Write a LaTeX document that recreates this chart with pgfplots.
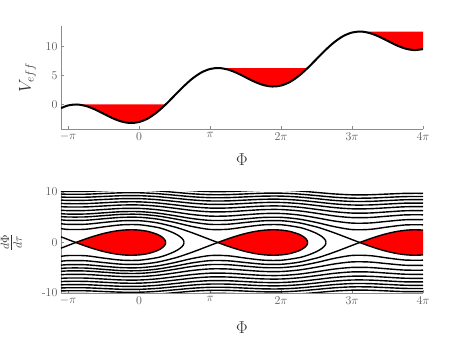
\documentclass[border=0pt]{standalone}
\usepackage{pgfplots}
\usepackage{pgfplotstable}
\pgfplotsset{compat=1.18}

\pgfplotsset{
  panel/.style={
    scale only axis, width=362pt,
    axis x line*=bottom, axis y line*=left,
    xmin=-3.45575, xmax=12.56637,
    xtick={-3.14159,0,3.14159,6.28319,9.42478,12.56637},
    xticklabels={$-\pi$,$0$,$\pi$,$2\pi$,$3\pi$,$4\pi$},
    tick align=inside, major tick length=3pt,
    axis line style={black!45, line width=0.6pt},
    major tick style={black!45, line width=0.6pt},
    tick label style={font=\fontsize{12}{14}\selectfont, text=black!65},
    label style={font=\fontsize{18}{21}\selectfont, text=black!80},
    no markers,
  },
  traj/.style={black, line width=1.4pt, smooth},
}

% open orbits above the wells, one column per energy level
\pgfplotstableread{
x a b c d e f g h i
-3.45575 5.7101 6.3879 7.0997 7.7463 8.4027 9.0114 9.6024 10.159 10.733
-3.14159 5.6288 6.3153 7.0345 7.6866 8.3477 8.9601 9.5542 10.113 10.690
-2.35619 5.6453 6.3300 7.0477 7.6987 8.3588 8.9705 9.5640 10.123 10.699
-1.57080 5.8772 6.5377 7.2348 7.8703 8.5172 9.1182 9.7026 10.254 10.823
-0.78540 6.1003 6.7390 7.4171 8.0382 8.6726 9.2635 9.8394 10.383 10.946
0        6.1156 6.7528 7.4297 8.0498 8.6833 9.2736 9.8489 10.392 10.954
0.78540  5.8371 6.5017 7.2022 7.8404 8.4895 9.0924 9.6784 10.231 10.801
1.57080  5.3158 6.0381 6.7866 7.4605 8.1399 8.7669 9.3733 9.9428 10.529
2.35619  4.7376 5.5358 6.3439 7.0601 7.7747 8.4288 9.0579 9.6460 10.249
3.14159  4.3723 5.2266 6.0759 6.8203 7.5576 8.2290 8.8723 9.4719 10.085
3.92699  4.3936 5.2444 6.0913 6.8340 7.5699 8.2404 8.8828 9.4818 10.095
4.71239  4.6878 5.4932 6.3067 7.0268 7.7444 8.4009 9.0319 9.6216 10.226
5.49779  4.9646 5.7312 6.5152 7.2144 7.9150 8.5585 9.1786 9.7595 10.356
6.28319  4.9833 5.7475 6.5294 7.2273 7.9268 8.5694 9.1888 9.7690 10.365
7.06858  4.6374 5.4503 6.2694 6.9933 7.7140 8.3729 9.0058 9.5972 10.203
7.85398  3.9613 4.8880 5.7873 6.5645 7.3275 8.0182 8.6771 9.2893 9.9142
8.63938  3.1430 4.2519 5.2611 6.1056 6.9194 7.6471 8.3354 8.9710 9.6166
9.42478  2.5594 3.8406 4.9346 5.8267 6.6746 7.4263 8.1333 8.7835 9.4420
10.21018 2.5956 3.8648 4.9535 5.8427 6.6886 7.4389 8.1447 8.7942 9.4518
10.99557 3.0674 4.1963 5.2162 6.0670 6.8854 7.6164 8.3071 8.9448 9.5921
11.78097 3.4757 4.5034 5.4663 6.2834 7.0768 7.7898 8.4665 9.0929 9.7304
12.56637 3.5025 4.5241 5.4834 6.2982 7.0899 7.8018 8.4775 9.1031 9.7400
}\hi

% separatrix branches running into the saddles
\pgfplotstableread{
x w
-3.45575 1.1218
-3.3     0.8535
-3.14159 0.5801
-3.0     0.3368
-2.9     0.1661
-2.80175 0
}\sepA
\pgfplotstableread{
x w
-3.45575 3.7182
-3.14159 3.5921
-2.35619 3.6179
-1.57080 3.9701
-0.78540 4.2934
0        4.3151
0.78540  3.9105
1.57080  3.0787
1.96350  2.5292
2.35619  1.9144
2.74889  1.2564
3.14159  0.5801
3.3      0.3080
3.48143  0
}\sepB
\pgfplotstableread{
x w
-3.45575 5.1372
-3.14159 5.0467
-2.35619 5.0651
-1.57080 5.3224
-0.78540 5.5677
0        5.5844
0.78540  5.2781
1.57080  4.6952
2.35619  4.0288
3.14159  3.5921
3.92699  3.6179
4.71239  3.9700
5.49779  4.2934
6.28319  4.3150
7.06858  3.9104
7.85398  3.0786
8.24668  2.5292
8.63938  1.9143
9.03208  1.2564
9.42478  0.5800
9.58319  0.3080
9.76462  0
}\sepC

% orbits turning back just outside the wells
\pgfplotstableread{
x w
-3.45575 2.7577
-3.14159 2.5852
-2.35619 2.6210
-1.57080 3.0890
-0.78540 3.4948
0        3.5214
0.78540  3.0120
1.17810  2.5179
1.57080  1.8051
1.8      1.1987
1.9      0.8126
1.95     0.5281
1.975    0.3005
1.987    0
}\turnA
\pgfplotstableread{
x w
-3.45575 4.4913
-3.14159 4.3874
-2.35619 4.4087
-1.57080 4.7019
-0.78540 4.9780
0        4.9966
0.78540  4.6517
1.57080  3.9780
2.35619  3.1641
3.14159  2.5852
3.92699  2.6210
4.71239  3.0890
5.49779  3.4948
6.28319  3.5214
7.06858  3.0120
7.46128  2.5179
7.85398  1.8051
8.08319  1.1987
8.18319  0.8126
8.23319  0.5281
8.25819  0.3005
8.27019  0
}\turnB

% edges of the bound (red) regions
\pgfplotstableread{
x w
-2.80175 0
-2.74889 0.0887
-2.35619 0.7233
-1.96350 1.2978
-1.57080 1.7874
-1.17810 2.1692
-0.78540 2.4221
-0.39270 2.5263
0        2.4604
0.39270  2.1935
0.78540  1.6508
1.0      1.1381
1.1      0.7583
1.15     0.4520
1.17     0.2331
1.17721  0
}\loopA
\pgfplotstableread{
x w
3.48143 0
3.53429 0.0887
3.92699 0.7233
4.31969 1.2978
4.71239 1.7874
5.10509 2.1692
5.49779 2.4221
5.89049 2.5263
6.28319 2.4604
6.67589 2.1935
7.06859 1.6508
7.28319 1.1381
7.38319 0.7583
7.43319 0.4520
7.45319 0.2331
7.46040 0
}\loopB
\pgfplotstableread{
x w
9.76462  0
9.81748  0.0887
10.21018 0.7233
10.60287 1.2978
10.99557 1.7874
11.38827 2.1692
11.78097 2.4221
12.17367 2.5263
12.56637 2.4604
}\loopC

\begin{document}
\begin{tikzpicture}
\useasboundingbox (-61pt,-221pt) rectangle (406pt,129pt);

\begin{axis}[panel, at={(0,0)}, height=103pt,
    ymin=-4.2, ymax=13.55, ytick={0,5,10},
    xlabel={$\Phi$}, ylabel={$V_{eff}$},
    xlabel style={at={(axis description cs:0.5,-0.301)}, anchor=center},
    ylabel style={at={(axis description cs:-0.0925,0.5)}, anchor=center}]
  \addplot[fill=red, draw=none] coordinates {
    (-2.80175,0.02668) (-2.74889,0.02275) (-2.35619,-0.23487) (-1.96350,-0.81545)
    (-1.57080,-1.57080) (-1.17810,-2.32615) (-0.78540,-2.90672) (-0.39270,-3.16434)
    (0,-3) (0.39270,-2.37894) (0.78540,-1.33592) (1.17721,0.02668)};
  \addplot[fill=red, draw=none] coordinates {
    (3.48143,6.30986) (3.53429,6.30593) (3.92699,6.04831) (4.31969,5.46774)
    (4.71239,4.71239) (5.10509,3.95704) (5.49779,3.37647) (5.89049,3.11885)
    (6.28319,3.28319) (6.67588,3.90425) (7.06858,4.94727) (7.46040,6.30986)};
  \addplot[fill=red, draw=none] coordinates {
    (9.76462,12.59305) (9.81748,12.58912) (10.21018,12.33150) (10.60288,11.75093)
    (10.99557,10.99558) (11.38827,10.24023) (11.78097,9.65966) (12.17367,9.40204)
    (12.56637,9.56638) (12.56637,12.59305)};
  \addplot[black, line width=2pt, smooth] coordinates {
    (-3.45575,-0.60258) (-3.14159,-0.14159) (-2.74889,0.02275) (-2.35619,-0.23487)
    (-1.96350,-0.81545) (-1.57080,-1.57080) (-1.17810,-2.32615) (-0.78540,-2.90672)
    (-0.39270,-3.16434) (0,-3) (0.39270,-2.37894) (0.78540,-1.33592)
    (1.17810,0.03005) (1.57080,1.57080) (1.96350,3.11155) (2.35619,4.47751)
    (2.74889,5.52053) (3.14159,6.14159) (3.53429,6.30593) (3.92699,6.04831)
    (4.31969,5.46774) (4.71239,4.71239) (5.10509,3.95704) (5.49779,3.37647)
    (5.89049,3.11885) (6.28319,3.28319) (6.67588,3.90425) (7.06858,4.94727)
    (7.46128,6.31324) (7.85398,7.85399) (8.24668,9.39474) (8.63938,10.76070)
    (9.03208,11.80372) (9.42478,12.42478) (9.81748,12.58912) (10.21018,12.33150)
    (10.60288,11.75093) (10.99557,10.99558) (11.38827,10.24023) (11.78097,9.65966)
    (12.17367,9.40204) (12.56637,9.56638)};
\end{axis}

\begin{axis}[panel, at={(0,-164pt)}, height=101pt,
    ymin=-10, ymax=10, ytick={-10,0,10},
    yticklabels={\textrm{-10},\textrm{0},\textrm{10}},
    xlabel={$\Phi$}, ylabel={$\frac{d\Phi}{d\tau}$},
    xlabel style={at={(axis description cs:0.5,-0.347)}, anchor=center},
    ylabel style={at={(axis description cs:-0.137,0.5)}, anchor=center}]
  % red bound regions
  \addplot[fill=red, draw=none] coordinates {
    (-2.80175,0) (-2.74889,0.0887) (-2.35619,0.7233) (-1.96350,1.2978) (-1.57080,1.7874)
    (-1.17810,2.1692) (-0.78540,2.4221) (-0.39270,2.5263) (0,2.4604) (0.39270,2.1935)
    (0.78540,1.6508) (1.0,1.1381) (1.1,0.7583) (1.15,0.4520) (1.17,0.2331) (1.17721,0)
    (1.17,-0.2331) (1.15,-0.4520) (1.1,-0.7583) (1.0,-1.1381) (0.78540,-1.6508)
    (0.39270,-2.1935) (0,-2.4604) (-0.39270,-2.5263) (-0.78540,-2.4221) (-1.17810,-2.1692)
    (-1.57080,-1.7874) (-1.96350,-1.2978) (-2.35619,-0.7233) (-2.74889,-0.0887)};
  \addplot[fill=red, draw=none] coordinates {
    (3.48143,0) (3.53429,0.0887) (3.92699,0.7233) (4.31969,1.2978) (4.71239,1.7874)
    (5.10509,2.1692) (5.49779,2.4221) (5.89049,2.5263) (6.28319,2.4604) (6.67589,2.1935)
    (7.06859,1.6508) (7.28319,1.1381) (7.38319,0.7583) (7.43319,0.4520) (7.45319,0.2331) (7.46040,0)
    (7.45319,-0.2331) (7.43319,-0.4520) (7.38319,-0.7583) (7.28319,-1.1381) (7.06859,-1.6508)
    (6.67589,-2.1935) (6.28319,-2.4604) (5.89049,-2.5263) (5.49779,-2.4221) (5.10509,-2.1692)
    (4.71239,-1.7874) (4.31969,-1.2978) (3.92699,-0.7233) (3.53429,-0.0887)};
  \addplot[fill=red, draw=none] coordinates {
    (9.76462,0) (9.81748,0.0887) (10.21018,0.7233) (10.60287,1.2978) (10.99557,1.7874)
    (11.38827,2.1692) (11.78097,2.4221) (12.17367,2.5263) (12.56637,2.4604)
    (12.56637,-2.4604) (12.17367,-2.5263) (11.78097,-2.4221) (11.38827,-2.1692)
    (10.99557,-1.7874) (10.60287,-1.2978) (10.21018,-0.7233) (9.81748,-0.0887)};
  % trajectories, upper and mirrored lower halves
  \addplot[traj] table[x=x, y=w] {\loopA};
  \addplot[traj] table[x=x, y expr=-\thisrow{w}] {\loopA};
  \addplot[traj] table[x=x, y=w] {\loopB};
  \addplot[traj] table[x=x, y expr=-\thisrow{w}] {\loopB};
  \addplot[traj] table[x=x, y=w] {\loopC};
  \addplot[traj] table[x=x, y expr=-\thisrow{w}] {\loopC};
  \addplot[traj] table[x=x, y=w] {\sepA};
  \addplot[traj] table[x=x, y expr=-\thisrow{w}] {\sepA};
  \addplot[traj] table[x=x, y=w] {\sepB};
  \addplot[traj] table[x=x, y expr=-\thisrow{w}] {\sepB};
  \addplot[traj] table[x=x, y=w] {\sepC};
  \addplot[traj] table[x=x, y expr=-\thisrow{w}] {\sepC};
  \addplot[traj] table[x=x, y=w] {\turnA};
  \addplot[traj] table[x=x, y expr=-\thisrow{w}] {\turnA};
  \addplot[traj] table[x=x, y=w] {\turnB};
  \addplot[traj] table[x=x, y expr=-\thisrow{w}] {\turnB};
  \addplot[traj] table[x=x, y=a] {\hi};
  \addplot[traj] table[x=x, y expr=-\thisrow{a}] {\hi};
  \addplot[traj] table[x=x, y=b] {\hi};
  \addplot[traj] table[x=x, y expr=-\thisrow{b}] {\hi};
  \addplot[traj] table[x=x, y=c] {\hi};
  \addplot[traj] table[x=x, y expr=-\thisrow{c}] {\hi};
  \addplot[traj] table[x=x, y=d] {\hi};
  \addplot[traj] table[x=x, y expr=-\thisrow{d}] {\hi};
  \addplot[traj] table[x=x, y=e] {\hi};
  \addplot[traj] table[x=x, y expr=-\thisrow{e}] {\hi};
  \addplot[traj] table[x=x, y=f] {\hi};
  \addplot[traj] table[x=x, y expr=-\thisrow{f}] {\hi};
  \addplot[traj] table[x=x, y=g] {\hi};
  \addplot[traj] table[x=x, y expr=-\thisrow{g}] {\hi};
  \addplot[traj] table[x=x, y=h] {\hi};
  \addplot[traj] table[x=x, y expr=-\thisrow{h}] {\hi};
  \addplot[traj] table[x=x, y=i] {\hi};
  \addplot[traj] table[x=x, y expr=-\thisrow{i}] {\hi};
\end{axis}
\end{tikzpicture}
\end{document}
